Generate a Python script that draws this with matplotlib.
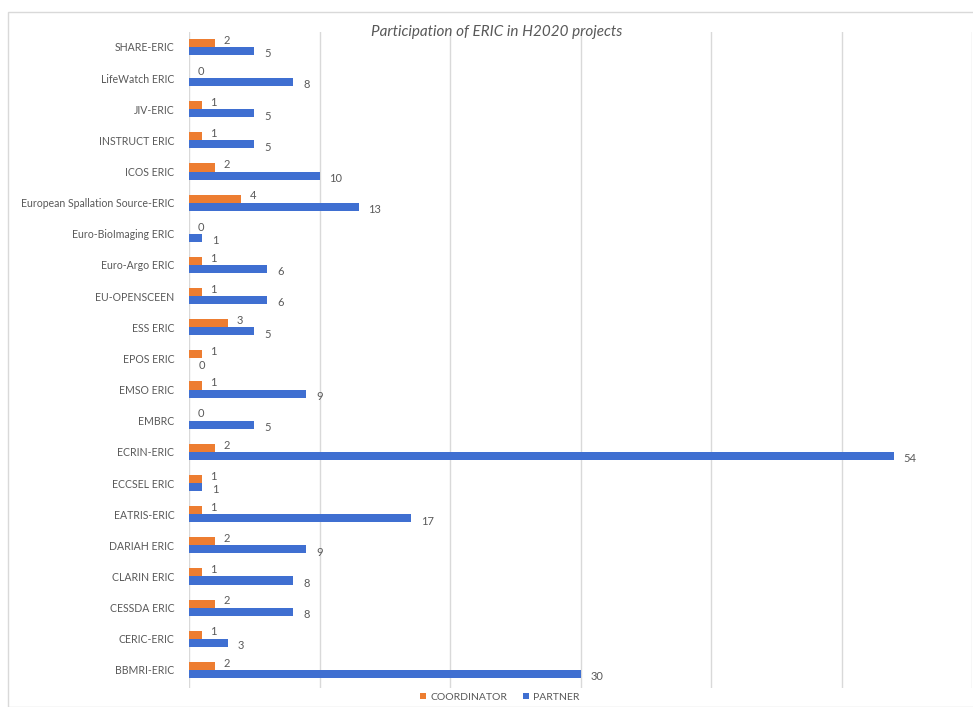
"""Participation of ERIC in H2020 projects: grouped horizontal bars."""

import matplotlib.pyplot as plt
import numpy as np
from matplotlib.patches import Rectangle

# bottom to top, as drawn on the chart
CATEGORIES = [
    "BBMRI-ERIC", "CERIC-ERIC", "CESSDA ERIC", "CLARIN ERIC", "DARIAH ERIC",
    "EATRIS-ERIC", "ECCSEL ERIC", "ECRIN-ERIC", "EMBRC", "EMSO ERIC",
    "EPOS ERIC", "ESS ERIC", "EU-OPENSCEEN", "Euro-Argo ERIC",
    "Euro-BioImaging ERIC", "European Spallation Source-ERIC", "ICOS ERIC",
    "INSTRUCT ERIC", "JIV-ERIC", "LifeWatch ERIC", "SHARE-ERIC",
]
COORDINATOR = [2, 1, 2, 1, 2, 1, 1, 2, 0, 1, 1, 3, 1, 1, 0, 4, 2, 1, 1, 0, 2]
PARTNER = [30, 3, 8, 8, 9, 17, 1, 54, 5, 9, 0, 5, 6, 6, 1, 13, 10, 5, 5, 8, 5]

ORANGE = "#ED7D31"
BLUE = "#3F6FD1"
TEXT = "#595959"
GRID = "#D9D9D9"

plt.rcParams["font.family"] = ["Lato", "DejaVu Sans"]

fig = plt.figure(figsize=(9.73, 7.07), dpi=100)
fig.patches.append(Rectangle((8 / 973, 0.0), 1.2, 1 - 12 / 707, transform=fig.transFigure,
                             fill=False, edgecolor=GRID, linewidth=1.0))

ax = fig.add_axes([189 / 973, 1 - 688 / 707, (972 - 189) / 973, (688 - 32) / 707])

y = np.arange(len(CATEGORIES))
h = 0.26
ax.barh(y + h / 2, COORDINATOR, height=h, color=ORANGE, label="COORDINATOR", zorder=3)
ax.barh(y - h / 2, PARTNER, height=h, color=BLUE, label="PARTNER", zorder=3)

for yi, c, p in zip(y, COORDINATOR, PARTNER):
    ax.annotate(str(c), (c, yi + h / 2), xytext=(6, 2), textcoords="offset points",
                ha="left", va="center", fontsize=8, color=TEXT)
    ax.annotate(str(p), (p, yi - h / 2), xytext=(7, -2), textcoords="offset points",
                ha="left", va="center", fontsize=8, color=TEXT)

ax.set_xlim(0, 60)
ax.set_ylim(-0.58, 20.48)
ax.set_xticks(np.arange(0, 61, 10))
ax.xaxis.grid(True, color=GRID, linewidth=1.0, zorder=0)
ax.tick_params(axis="x", bottom=False, labelbottom=False)
ax.tick_params(axis="y", left=False, pad=7)
ax.set_yticks(y)
ax.set_yticklabels(CATEGORIES, fontsize=7.6, color=TEXT)
for side in ax.spines.values():
    side.set_visible(False)

fig.text(497 / 973, 1 - 32 / 707, "Participation of ERIC in H2020 projects",
         ha="center", va="center", fontsize=11, style="italic", color=TEXT)

fig.legend(loc="center", bbox_to_anchor=(500 / 973, 1 - 697 / 707), ncol=2, frameon=False,
           fontsize=7.5, handlelength=0.6, handleheight=0.6, columnspacing=1.5,
           handletextpad=0.4, labelcolor=TEXT)

fig.savefig("out.png", dpi=100)
